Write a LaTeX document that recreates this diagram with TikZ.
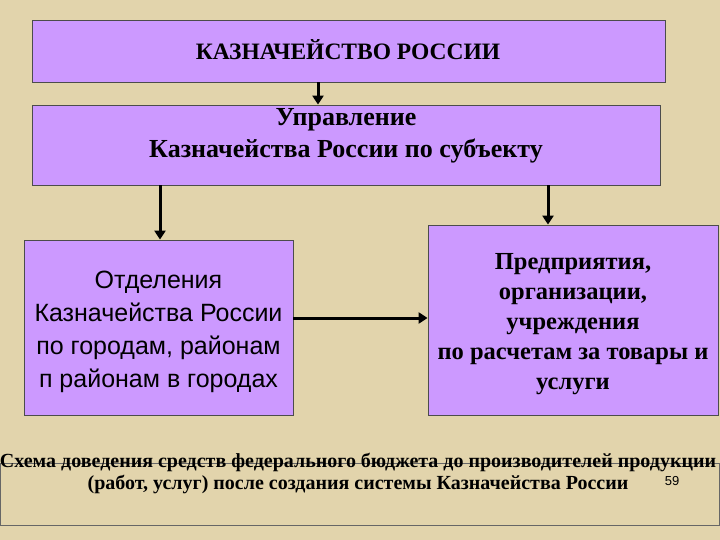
\documentclass[tikz,border=0pt]{standalone}
\usepackage{fontspec}
\setmainfont{Liberation Serif}
\newfontfamily\arialf{Liberation Sans}
\usetikzlibrary{arrows.meta}
\definecolor{bg}{RGB}{226,212,172}
\definecolor{lil}{RGB}{204,153,255}
\begin{document}
\begin{tikzpicture}[x=1pt,y=-1pt,
  box/.style={draw=black!70,line width=0.8pt,fill=lil,inner sep=0},
  arr/.style={line width=3pt,-{Triangle[length=9pt,width=11pt]}}]
\fill[bg] (0,0) rectangle (720,540);
\useasboundingbox (0,0) rectangle (720,540);
\node[box,minimum width=633pt,minimum height=62pt] (a) at (348.5,51) {};
\node[font=\bfseries\fontsize{23.5}{26}\selectfont] (at) at (348,50) {КАЗНАЧЕЙСТВО РОССИИ};
\node[box,minimum width=628pt,minimum height=80pt] (b) at (346,145) {};
\node[font=\bfseries\fontsize{26}{32}\selectfont,align=center] (bt) at (346,136) {Управление\\Казначейства России по субъекту};
\node[box,minimum width=269pt,minimum height=175pt] (c) at (158.5,327.5) {};
\node[font=\arialf\fontsize{25}{33}\selectfont,align=center] (ct) at (158.5,332) {Отделения\\Казначейства России\\по городам, районам\\п районам в городах};
\node[box,minimum width=290pt,minimum height=190pt] (d) at (573,320) {};
\node[font=\bfseries\fontsize{24.5}{30}\selectfont,align=center] (dt) at (573,324) {Предприятия,\\организации,\\учреждения\\по расчетам за товары и\\услуги};
\node[draw=black!60,line width=0.6pt,minimum width=719pt,minimum height=62pt,inner sep=0] (e) at (360,494) {};
\node[font=\bfseries\fontsize{20}{22}\selectfont,align=center] (et) at (358,473) {Схема доведения средств федерального бюджета до производителей продукции\\(работ, услуг) после создания системы Казначейства России};
\node[font=\arialf\fontsize{13}{13}\selectfont,inner sep=0] (n) at (672,481) {59};
\draw[arr] (a.south -| 318,0) -- (b.north -| 318,0);
\draw[arr] (b.south -| 160,0) -- (c.north -| 160,0);
\draw[arr] (b.south -| 548,0) -- (d.north -| 548,0);
\draw[arr] (c.east |- 0,318) -- (d.west |- 0,318);
\end{tikzpicture}
\end{document}
